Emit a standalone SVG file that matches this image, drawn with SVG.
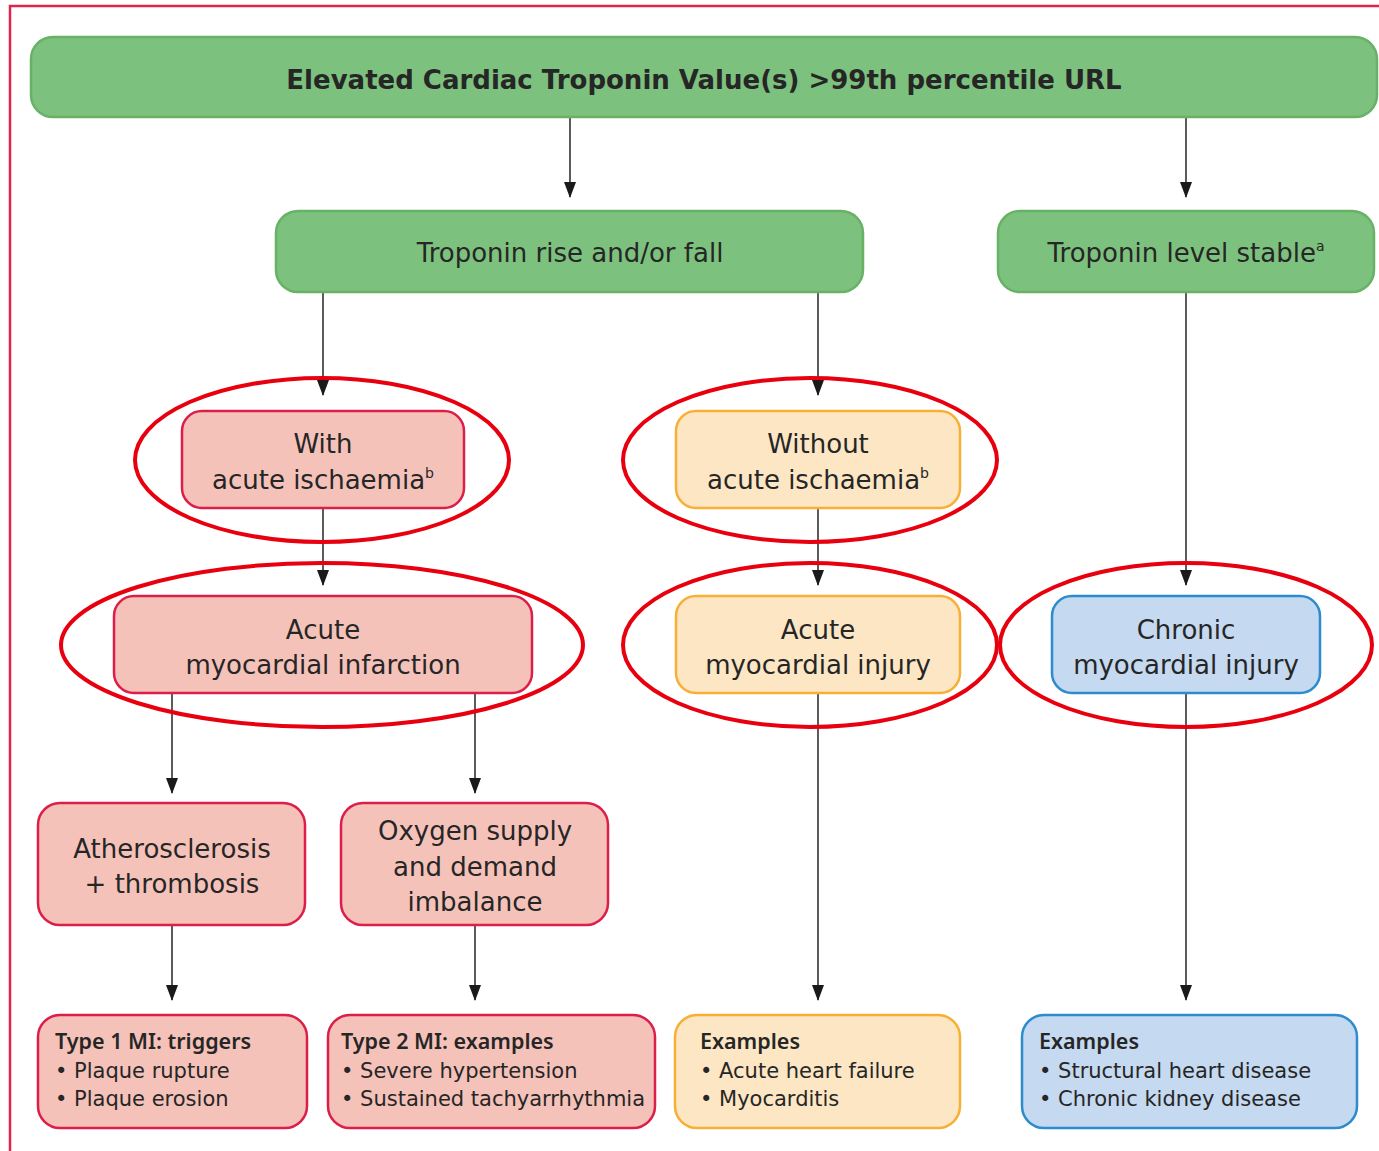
<svg xmlns="http://www.w3.org/2000/svg" width="1379" height="1151" viewBox="0 0 1379 1151">
<defs>
<style>
text{font-family:"DejaVu Sans","Noto Sans",Arial,sans-serif;fill:#262626;}
.c{text-anchor:middle;font-size:26px;}
.h{font-family:"Noto Sans","DejaVu Sans",sans-serif;font-size:21.5px;font-weight:600;}
.l{font-size:21px;}
.green{fill:#7dc17e;stroke:#68b266;stroke-width:2.5;}
.pink{fill:#f5c2b9;stroke:#dc1f4a;stroke-width:2.5;}
.orange{fill:#fde6c4;stroke:#f7b035;stroke-width:2.5;}
.blue{fill:#c5d9f0;stroke:#2d8ccc;stroke-width:2.5;}
.ring{fill:none;stroke:#e8000f;stroke-width:4;}
.conn line{stroke:#333;stroke-width:1.6;marker-end:url(#ah);}
</style>
<marker id="ah" viewBox="0 0 16 12" refX="15" refY="6" markerWidth="16" markerHeight="12" markerUnits="userSpaceOnUse" orient="auto">
<path d="M0,0 L16,6 L0,12 Z" fill="#1a1a1a"/>
</marker>
</defs>
<path d="M10,1151 V6 H1379" fill="none" stroke="#e0244f" stroke-width="2.5"/>
<g class="conn">
<line x1="570" y1="117" x2="570" y2="197"/>
<line x1="1186" y1="117" x2="1186" y2="197"/>
<line x1="323" y1="292" x2="323" y2="395"/>
<line x1="818" y1="292" x2="818" y2="395"/>
<line x1="1186" y1="292" x2="1186" y2="585"/>
<line x1="323" y1="508" x2="323" y2="585"/>
<line x1="818" y1="508" x2="818" y2="585"/>
<line x1="172" y1="693" x2="172" y2="793"/>
<line x1="475" y1="693" x2="475" y2="793"/>
<line x1="172" y1="925" x2="172" y2="1000"/>
<line x1="475" y1="925" x2="475" y2="1000"/>
<line x1="818" y1="693" x2="818" y2="1000"/>
<line x1="1186" y1="693" x2="1186" y2="1000"/>
</g>
<g id="top"><rect class="green" x="31" y="37" width="1346" height="80" rx="22"/>
<text class="c" x="704" y="89" style="font-weight:bold;font-size:26px">Elevated Cardiac Troponin Value(s) &gt;99th percentile URL</text></g>
<g id="risefall"><rect class="green" x="276" y="211" width="587" height="81" rx="22"/>
<text class="c" x="570" y="262">Troponin rise and/or fall</text></g>
<g id="stable"><rect class="green" x="998" y="211" width="376" height="81" rx="22"/>
<text class="c" x="1186" y="262">Troponin level stable<tspan font-size="14" dy="-11">a</tspan></text></g>
<g id="with"><rect class="pink" x="182" y="411" width="282" height="97" rx="20"/>
<text class="c" x="323" y="453">With</text>
<text class="c" x="323" y="489">acute ischaemia<tspan font-size="14" dy="-11">b</tspan></text>
<ellipse class="ring" cx="322" cy="460" rx="187" ry="82"/></g>
<g id="without"><rect class="orange" x="676" y="411" width="284" height="97" rx="20"/>
<text class="c" x="818" y="453">Without</text>
<text class="c" x="818" y="489">acute ischaemia<tspan font-size="14" dy="-11">b</tspan></text>
<ellipse class="ring" cx="810" cy="460" rx="187" ry="82"/></g>
<g id="ami"><rect class="pink" x="114" y="596" width="418" height="97" rx="20"/>
<text class="c" x="323" y="639">Acute</text>
<text class="c" x="323" y="674">myocardial infarction</text>
<ellipse class="ring" cx="322" cy="645" rx="261" ry="82"/></g>
<g id="acuteinjury"><rect class="orange" x="676" y="596" width="284" height="97" rx="20"/>
<text class="c" x="818" y="639">Acute</text>
<text class="c" x="818" y="674">myocardial injury</text>
<ellipse class="ring" cx="810" cy="645" rx="187" ry="82"/></g>
<g id="chronic"><rect class="blue" x="1052" y="596" width="268" height="97" rx="20"/>
<text class="c" x="1186" y="639">Chronic</text>
<text class="c" x="1186" y="674">myocardial injury</text>
<ellipse class="ring" cx="1186" cy="645" rx="186" ry="82"/></g>
<g id="athero"><rect class="pink" x="38" y="803" width="267" height="122" rx="22"/>
<text class="c" x="172" y="858">Atherosclerosis</text>
<text class="c" x="172" y="893">+ thrombosis</text></g>
<g id="oxygen"><rect class="pink" x="341" y="803" width="267" height="122" rx="22"/>
<text class="c" x="475" y="840">Oxygen supply</text>
<text class="c" x="475" y="876">and demand</text>
<text class="c" x="475" y="911">imbalance</text></g>
<g id="type1"><rect class="pink" x="38" y="1015" width="269" height="113" rx="22"/>
<text class="h" x="55" y="1049">Type 1 MI: triggers</text>
<text class="l" x="55" y="1078">• Plaque rupture</text>
<text class="l" x="55" y="1106">• Plaque erosion</text></g>
<g id="type2"><rect class="pink" x="328" y="1015" width="327" height="113" rx="22"/>
<text class="h" x="341" y="1049">Type 2 MI: examples</text>
<text class="l" x="341" y="1078">• Severe hypertension</text>
<text class="l" x="341" y="1106">• Sustained tachyarrhythmia</text></g>
<g id="ex-acute"><rect class="orange" x="675" y="1015" width="285" height="113" rx="22"/>
<text class="h" x="700" y="1049">Examples</text>
<text class="l" x="700" y="1078">• Acute heart failure</text>
<text class="l" x="700" y="1106">• Myocarditis</text></g>
<g id="ex-chronic"><rect class="blue" x="1022" y="1015" width="335" height="113" rx="22"/>
<text class="h" x="1039" y="1049">Examples</text>
<text class="l" x="1039" y="1078">• Structural heart disease</text>
<text class="l" x="1039" y="1106">• Chronic kidney disease</text></g>
</svg>
